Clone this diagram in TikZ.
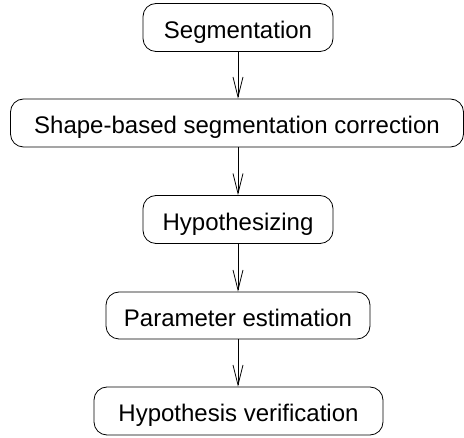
\documentclass[tikz,border=0pt]{standalone}
\usepackage{fontspec}
\setmainfont{Liberation Sans}
\usetikzlibrary{arrows.meta}
\begin{document}
\begin{tikzpicture}[x=1pt,y=-1pt,
  stagebox/.style={draw, line width=0.8pt, rounded corners=13pt, inner sep=0pt,
    text height=22pt, text depth=0pt,
    font=\fontsize{24}{28}\selectfont, anchor=center},
  flow/.style={draw, line width=0.8pt, -{Straight Barb[length=20pt,width=10pt,line width=0.8pt]}}]
\useasboundingbox (0,0) rectangle (464,438);
\node[stagebox, minimum width=190pt, minimum height=48pt] (seg) at (238,27.5) {Segmentation};
\node[stagebox, minimum width=453pt, minimum height=48pt] (shape) at (237,123) {Shape-based segmentation correction};
\node[stagebox, minimum width=190pt, minimum height=48pt] (hyp) at (238,219.5) {Hypothesizing};
\node[stagebox, minimum width=264pt, minimum height=47pt] (param) at (238,315.5) {Parameter estimation};
\node[stagebox, minimum width=289pt, minimum height=48pt] (verif) at (238.5,411) {Hypothesis verification};
\draw[flow] (seg.south -| 238,0) -- (shape.north -| 238,0);
\draw[flow] (shape.south -| 238,0) -- (hyp.north -| 238,0);
\draw[flow] (hyp.south -| 238,0) -- (param.north -| 238,0);
\draw[flow] (param.south -| 238,0) -- (verif.north -| 238,0);
\end{tikzpicture}
\end{document}
